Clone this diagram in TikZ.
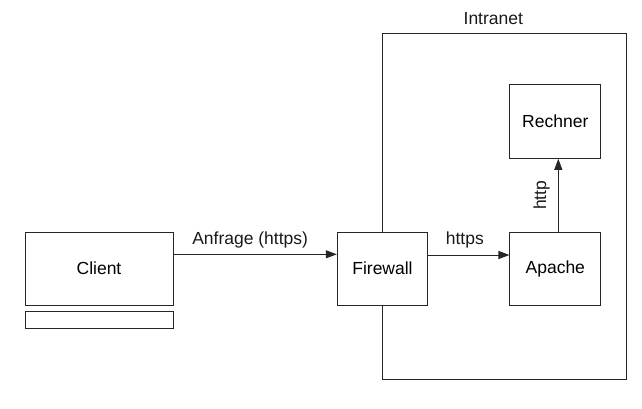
\documentclass[tikz,border=0pt]{standalone}
\usepackage{fontspec}
\setmainfont{Liberation Sans}
\usetikzlibrary{arrows.meta}
\begin{document}
\begin{tikzpicture}[x=1pt,y=-1pt,
  box/.style={draw=black!85, line width=1pt, fill=white, inner sep=0pt, font=\fontsize{17.5}{20}\selectfont},
  lbl/.style={font=\fontsize{17.5}{20}\selectfont, inner sep=0pt, text=black!90},
  conn/.style={draw=black!85, line width=1pt, -{Triangle[length=11pt,width=8pt]}}]
\useasboundingbox (0,0) rectangle (642,408);
% Intranet frame
\node[draw=black!85, line width=1pt, minimum width=244pt, minimum height=345.6pt, inner sep=0pt] (intranet) at (504.3,206.5) {};
\node[lbl] (intranetlbl) at (493.3,19) {Intranet};
% Boxes
\node[box, minimum width=148pt, minimum height=73.4pt] (client) at (99,268.7) {Client};
\node[box, minimum width=148pt, minimum height=17pt] (clientbar) at (99,319.5) {};
\node[box, minimum width=90.4pt, minimum height=73.3pt] (firewall) at (382.5,268.7) {Firewall};
\node[box, minimum width=90.7pt, minimum height=73.3pt] (apache) at (555.3,268.7) {Apache};
\node[box, minimum width=90.7pt, minimum height=74pt] (rechner) at (555.3,121.3) {Rechner};
% Connectors
\draw[conn] (client.east |- 0,254.3) -- (firewall.west |- 0,254.3)
  node[lbl, midway, above=6pt, xshift=-5pt] (anfrage) {Anfrage (https)};
\draw[conn] (firewall.east |- 0,255) -- (apache.west |- 0,255)
  node[lbl, midway, above=6pt, xshift=-4pt] (https) {https};
\draw[conn] (apache.north -| 558.3,0) -- (rechner.south -| 558.3,0)
  node[lbl, midway, rotate=90, above=8pt, anchor=south] (http) {http};
\end{tikzpicture}
\end{document}
